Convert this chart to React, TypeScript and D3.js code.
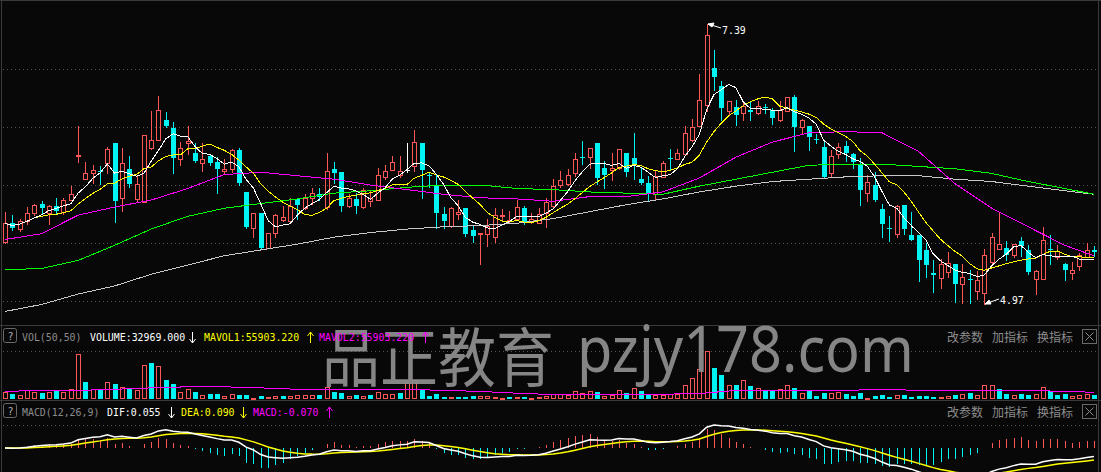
import React from 'react';
import * as d3 from 'd3';

const W = 1101;
const H = 472;

// Daily sessions, oldest first
const opens = [
  5.51, 5.67, 5.62, 5.69, 5.76, 5.84, 5.76, 5.82, 5.77, 5.87,
  6.25, 6.05, 6.10, 6.12, 6.19, 6.36, 5.89, 6.14, 5.88, 5.85,
  6.32, 6.39, 6.56, 6.49, 6.22, 6.36, 6.28, 6.19, 6.25, 6.20,
  6.12, 6.14, 6.30, 5.94, 5.63, 5.76, 5.46, 5.59, 5.70, 5.69,
  5.88, 5.80, 5.89, 5.92, 5.81, 6.14, 6.11, 5.82, 5.88, 5.81,
  5.86, 5.87, 6.07, 6.13, 6.09, 6.13, 6.16, 6.36, 6.09, 6.00,
  5.75, 5.65, 5.75, 5.80, 5.61, 5.58, 5.58, 5.55, 5.73, 5.69,
  5.71, 5.80, 5.68, 5.67, 5.76, 5.82, 6.00, 6.01, 6.10, 6.24,
  6.24, 6.36, 6.15, 6.13, 6.15, 6.28, 6.23, 6.05, 6.02, 5.92,
  6.07, 6.23, 6.22, 6.27, 6.39, 6.51, 6.69, 7.01, 6.85, 6.64,
  6.67, 6.62, 6.65, 6.62, 6.67, 6.65, 6.56, 6.64, 6.76, 6.50,
  6.51, 6.40, 6.33, 6.10, 6.27, 6.34, 6.27, 6.18, 5.93, 6.00,
  5.79, 5.63, 5.58, 5.83, 5.57, 5.57, 5.44, 5.24, 5.20, 5.25,
  5.32, 5.15, 5.19, 5.09, 5.07, 5.34, 5.45, 5.46, 5.40, 5.52,
  5.44, 5.19, 5.19, 5.45, 5.38, 5.32, 5.24, 5.30, 5.38, 5.44,
];
const highs = [
  5.77, 5.74, 5.71, 5.81, 5.84, 5.86, 5.83, 5.89, 5.89, 5.99,
  6.51, 6.20, 6.17, 6.16, 6.33, 6.36, 6.32, 6.25, 6.09, 6.43,
  6.64, 6.77, 6.63, 6.54, 6.37, 6.51, 6.36, 6.36, 6.27, 6.24,
  6.22, 6.31, 6.32, 5.94, 5.76, 5.76, 5.59, 5.75, 5.82, 5.89,
  5.89, 5.92, 5.97, 5.97, 6.28, 6.20, 6.11, 5.92, 5.93, 5.97,
  5.95, 6.15, 6.17, 6.25, 6.25, 6.36, 6.47, 6.36, 6.10, 6.09,
  5.81, 5.81, 5.87, 5.80, 5.65, 5.59, 5.71, 5.80, 5.79, 5.78,
  5.87, 5.82, 5.76, 5.80, 5.89, 6.05, 6.12, 6.14, 6.28, 6.38,
  6.32, 6.36, 6.21, 6.28, 6.31, 6.28, 6.45, 6.15, 6.08, 6.12,
  6.21, 6.31, 6.31, 6.51, 6.57, 6.96, 7.39, 7.16, 6.90, 6.72,
  6.73, 6.72, 6.72, 6.72, 6.70, 6.66, 6.72, 6.76, 6.78, 6.57,
  6.51, 6.44, 6.37, 6.30, 6.36, 6.38, 6.28, 6.23, 6.09, 6.11,
  5.84, 5.73, 5.83, 5.83, 5.77, 5.57, 5.50, 5.35, 5.36, 5.42,
  5.32, 5.32, 5.27, 5.26, 5.45, 5.59, 5.76, 5.52, 5.49, 5.55,
  5.48, 5.27, 5.64, 5.57, 5.48, 5.33, 5.34, 5.41, 5.50, 5.47,
];
const lows = [
  5.50, 5.61, 5.60, 5.66, 5.74, 5.75, 5.66, 5.75, 5.75, 5.87,
  6.20, 6.05, 6.02, 6.01, 6.10, 5.68, 5.78, 5.98, 5.85, 5.85,
  6.31, 6.39, 6.50, 6.10, 6.17, 6.27, 6.20, 6.12, 6.17, 5.93,
  6.10, 6.11, 6.00, 5.63, 5.55, 5.45, 5.46, 5.55, 5.69, 5.68,
  5.71, 5.79, 5.84, 5.87, 5.79, 6.02, 5.78, 5.81, 5.76, 5.80,
  5.82, 5.87, 6.05, 6.13, 6.07, 6.11, 6.12, 5.89, 5.98, 5.63,
  5.63, 5.64, 5.71, 5.56, 5.51, 5.32, 5.47, 5.51, 5.70, 5.67,
  5.71, 5.66, 5.67, 5.67, 5.64, 5.81, 5.98, 6.00, 6.08, 6.18,
  6.15, 6.01, 5.97, 6.04, 6.14, 6.08, 6.05, 6.01, 5.87, 5.88,
  6.07, 6.13, 6.22, 6.27, 6.38, 6.51, 6.64, 6.82, 6.56, 6.60,
  6.52, 6.56, 6.56, 6.61, 6.62, 6.53, 6.55, 6.64, 6.29, 6.44,
  6.30, 6.36, 6.07, 6.08, 6.23, 6.21, 6.15, 5.83, 5.86, 5.86,
  5.55, 5.52, 5.55, 5.58, 5.53, 5.17, 5.21, 5.08, 5.11, 5.21,
  4.99, 4.98, 4.98, 5.02, 4.97, 5.32, 5.45, 5.35, 5.38, 5.39,
  5.23, 5.06, 5.19, 5.32, 5.36, 5.18, 5.19, 5.27, 5.38, 5.39,
];
const closes = [
  5.67, 5.63, 5.69, 5.76, 5.83, 5.80, 5.82, 5.78, 5.87, 5.92,
  6.26, 6.10, 6.13, 6.11, 6.31, 5.86, 6.19, 6.01, 6.01, 6.43,
  6.39, 6.65, 6.51, 6.23, 6.32, 6.38, 6.21, 6.22, 6.19, 6.14,
  6.14, 6.30, 6.02, 5.64, 5.76, 5.46, 5.59, 5.74, 5.72, 5.82,
  5.83, 5.89, 5.93, 5.90, 6.12, 6.10, 5.82, 5.89, 5.82, 5.96,
  5.89, 6.09, 6.12, 6.20, 6.12, 6.13, 6.37, 6.13, 6.08, 5.76,
  5.69, 5.80, 5.77, 5.58, 5.56, 5.59, 5.65, 5.74, 5.74, 5.70,
  5.81, 5.67, 5.71, 5.75, 5.85, 5.99, 6.04, 6.09, 6.22, 6.23,
  6.32, 6.06, 6.09, 6.15, 6.31, 6.11, 6.18, 6.02, 5.93, 6.08,
  6.19, 6.22, 6.28, 6.45, 6.50, 6.73, 7.29, 6.93, 6.66, 6.72,
  6.60, 6.68, 6.63, 6.68, 6.66, 6.58, 6.65, 6.76, 6.50, 6.56,
  6.41, 6.39, 6.07, 6.25, 6.33, 6.28, 6.20, 5.96, 6.03, 5.87,
  5.66, 5.62, 5.82, 5.62, 5.53, 5.35, 5.31, 5.22, 5.32, 5.33,
  5.15, 5.21, 5.18, 5.18, 5.40, 5.55, 5.49, 5.40, 5.49, 5.47,
  5.25, 5.26, 5.53, 5.44, 5.43, 5.27, 5.27, 5.40, 5.44, 5.42,
];
const volumes = [
  57500, 40000, 36700, 71700, 57500, 48300, 57500, 63300, 57500, 80800,
  379000, 145000, 80800, 80800, 145000, 127500, 101700, 92500, 78300, 282500,
  297500, 276700, 154200, 127500, 57500, 83300, 57500, 36700, 40000, 40000,
  22500, 45800, 30800, 30800, 12000, 22500, 13300, 28300, 22500, 22500,
  30800, 36700, 36700, 30800, 98300, 57500, 51700, 28300, 30800, 28300,
  30800, 54200, 45800, 45800, 51700, 133300, 160000, 78300, 25000, 40000,
  13300, 16700, 19200, 13300, 25000, 22500, 28300, 13300, 7500, 13300,
  19200, 13300, 7500, 16700, 28300, 42500, 42500, 34200, 63300, 51700,
  63300, 57500, 28300, 34200, 71700, 48300, 92500, 65800, 36700, 34200,
  34200, 45800, 40000, 119200, 171700, 247500, 400000, 259200, 197500, 115800,
  119200, 160000, 110000, 92500, 63300, 65800, 80800, 115800, 92500, 48300,
  65800, 22500, 48300, 48300, 54200, 40000, 22500, 48300, 10800, 25000,
  30800, 13300, 30800, 34200, 13300, 22500, 22500, 13300, 19200, 22500,
  30800, 45800, 48300, 30800, 115800, 115800, 80800, 40000, 30800, 40000,
  30800, 45800, 101700, 69200, 30800, 40000, 22500, 30800, 40000, 32969,
];

// Long averages, taken every fifth session plus the final one
const longIndex = [
  0, 5, 10, 15, 20, 25, 30, 35, 40, 45, 50, 55, 60, 65, 70, 75,
  80, 85, 90, 95, 100, 105, 110, 115, 120, 125, 130, 135, 140, 145, 149,
];
const ma30 = [
  5.53, 5.58, 5.74, 5.81, 5.87, 5.97, 6.09, 6.11, 6.08, 6.05, 6.00, 5.96, 5.92, 5.89, 5.88, 5.86,
  5.90, 5.90, 5.94, 6.06, 6.24, 6.37, 6.45, 6.46, 6.45, 6.29, 6.01, 5.80, 5.64, 5.48, 5.39,
];
const ma60 = [
  5.27, 5.28, 5.35, 5.48, 5.62, 5.73, 5.80, 5.84, 5.88, 5.93, 5.95, 5.98, 6.00, 6.00, 5.97, 5.96,
  5.94, 5.93, 5.92, 5.99, 6.05, 6.11, 6.17, 6.18, 6.18, 6.16, 6.14, 6.10, 6.03, 5.97, 5.92,
];
const ma120 = [
  4.91, 4.97, 5.06, 5.13, 5.23, 5.31, 5.39, 5.44, 5.49, 5.55, 5.59, 5.62, 5.64, 5.65, 5.67, 5.71,
  5.77, 5.83, 5.88, 5.94, 5.99, 6.03, 6.05, 6.07, 6.08, 6.08, 6.05, 6.03, 5.99, 5.95, 5.92,
];
const mavol50 = [
  63300, 71700, 71700, 80800, 92500, 101700, 101700, 92500, 80800, 80800, 80800, 80800, 71700, 63300, 48300, 36700,
  36700, 40000, 40000, 45000, 71700, 71700, 71700, 71700, 80800, 71700, 71700, 71700, 71700, 63300, 55903.22,
];

const priceGrid = [5.0, 5.5, 6.0, 6.5, 7.0];
const macdHeaderValues = ['0.055', '0.090', '-0.070'];
const panelButtons = ['改参数', '加指标', '换指标'];

const RED = '#ff5656';
const CYAN = '#00f4f4';
const GREY_TEXT = '#8c8c8c';
const GRID = '#555555';
const FRAME = '#3a3a3a';
const MONO = '"DejaVu Sans Mono", monospace';
const CJK = '"Noto Sans CJK SC", sans-serif';
const CHAR_W = 5.95;

function movingAverage(values: number[], period: number) {
  return values.map((_, i) => d3.mean(values.slice(Math.max(0, i - period + 1), i + 1)) as number);
}

function ema(values: number[], period: number) {
  const k = 2 / (period + 1);
  const out: number[] = [];
  values.forEach((v, i) => out.push(i === 0 ? v : out[i - 1] * (1 - k) + v * k));
  return out;
}

// Header label in the terminal's narrow monospace face
function Label({ x, y, fill, children }: { x: number; y: number; fill: string; children: string }) {
  return (
    <text x={x} y={y} fill={fill} fontFamily={MONO} fontSize={11} textLength={children.length * CHAR_W}
      lengthAdjust="spacingAndGlyphs">{children}</text>
  );
}

// Thin tall trend arrow used next to header values
function Arrow({ x, y, up, color }: { x: number; y: number; up: boolean; color: string }) {
  const top = y - 9;
  const bot = y + 2;
  const d = up
    ? `M${x},${bot}L${x},${top}M${x - 3},${top + 4}L${x},${top}L${x + 3},${top + 4}`
    : `M${x},${top}L${x},${bot}M${x - 3},${bot - 4}L${x},${bot}L${x + 3},${bot - 4}`;
  return <path d={d} fill="none" stroke={color} strokeWidth={1} />;
}

export default function App() {
  const n = closes.length;
  const x = d3.scaleLinear().domain([0, n - 1]).range([5, 1094]);
  const yP = d3.scaleLinear().domain([5, 7]).range([301, 69]);
  const yV = d3.scaleLinear().domain([0, d3.max(volumes) as number]).range([399, 351]);

  const ma5 = movingAverage(closes, 5);
  const ma10 = movingAverage(closes, 10);

  const e12 = ema(closes, 12);
  const e26 = ema(closes, 26);
  const dif = e12.map((v, i) => v - e26[i]);
  const dea = ema(dif, 9);
  const hist = dif.map((v, i) => 2 * (v - dea[i]));
  const macdTop = d3.max([...dif, ...dea]) as number;
  const yM = d3.scaleLinear().domain([0, macdTop]).range([448, 425]);

  const cx = (i: number) => Math.round(x(i));

  const seriesLine = (vals: number[], y: (v: number) => number) =>
    d3.line<number>().x((_, i) => x(i)).y((v) => y(v))(vals) || '';
  const sampledLine = (vals: number[], y: (v: number) => number) =>
    d3.line<number>().x((_, k) => x(longIndex[k])).y((v) => y(v))(vals) || '';

  const hiIdx = d3.maxIndex(highs);
  const loIdx = d3.minIndex(lows);
  const hiPt = { x: cx(hiIdx), y: Math.round(yP(highs[hiIdx])) };
  const loPt = { x: cx(loIdx), y: Math.round(yP(lows[loIdx])) };

  const upVol = (i: number) =>
    i === 0 ? closes[i] >= opens[i] : closes[i] > closes[i - 1] || (closes[i] === closes[i - 1] && closes[i] >= opens[i]);

  const lastVol = volumes[n - 1].toFixed(3);
  const lastMavol = mavol50[mavol50.length - 1].toFixed(3);

  const header = (y: number) => (
    <g>
      <rect x={3.5} y={y - 12.5} width={13} height={14} rx={2} fill="none" stroke="#6a6a6a" />
      <text x={10.5} y={y - 1} textAnchor="middle" fontFamily={MONO} fontSize={10} fill="#b0b0b0">?</text>
      {panelButtons.map((b, k) => (
        <text key={b} x={947 + k * 45} y={y + 0.5} fontFamily={CJK} fontSize={12} fill={GREY_TEXT}>{b}</text>
      ))}
      <rect x={1082.5} y={y - 11.5} width={14} height={14} fill="none" stroke="#6a6a6a" />
      <path d={`M${1085.5},${y - 8.5}L${1093.5},${y - 0.5}M${1093.5},${y - 8.5}L${1085.5},${y - 0.5}`} stroke="#8a8a8a" />
    </g>
  );

  return (
    <svg width={W} height={H} style={{ position: 'absolute', left: 0, top: 0, background: '#080808' }}>
      <defs>
        <clipPath id="mainClip"><rect x={2} y={1} width={1096} height={323} /></clipPath>
        <clipPath id="macdClip"><rect x={2} y={421} width={1096} height={60} /></clipPath>
      </defs>
      <rect x={0} y={0} width={W} height={H} fill="#080808" />

      {/* frame */}
      <line x1={0} y1={0.5} x2={W} y2={0.5} stroke={FRAME} />
      <line x1={1.5} y1={0} x2={1.5} y2={H} stroke={FRAME} />
      <line x1={1098.5} y1={0} x2={1098.5} y2={H} stroke={FRAME} />
      <line x1={0} y1={325.5} x2={W} y2={325.5} stroke={FRAME} />
      <line x1={0} y1={400.5} x2={W} y2={400.5} stroke={FRAME} />

      {/* price grid */}
      {priceGrid.map((p) => (
        <line key={p} x1={3} x2={1098} y1={Math.round(yP(p)) + 0.5} y2={Math.round(yP(p)) + 0.5}
          stroke={GRID} strokeDasharray="1 3" />
      ))}
      <line x1={3} x2={1098} y1={351.5} y2={351.5} stroke={GRID} strokeDasharray="1 3" />
      <line x1={3} x2={1098} y1={425.5} y2={425.5} stroke={GRID} strokeDasharray="1 3" />

      {/* candles */}
      <g clipPath="url(#mainClip)" shapeRendering="crispEdges">
        {closes.map((c, i) => {
          const o = opens[i];
          const px = cx(i);
          const yo = Math.round(yP(o));
          const yc = Math.round(yP(c));
          const yh = Math.round(yP(highs[i]));
          const yl = Math.round(yP(lows[i]));
          if (c > o) {
            return (
              <g key={i} stroke={RED} fill="none">
                {yh < yc && <line x1={px + 0.5} x2={px + 0.5} y1={yh} y2={yc} />}
                {yl > yo && <line x1={px + 0.5} x2={px + 0.5} y1={yo + 1} y2={yl + 1} />}
                <rect x={px - 1.5} y={yc + 0.5} width={4} height={Math.max(0.5, yo - yc)} />
              </g>
            );
          }
          if (c < o) {
            return (
              <g key={i}>
                <line x1={px + 0.5} x2={px + 0.5} y1={yh} y2={yl + 1} stroke={CYAN} />
                <rect x={px - 2} y={yo} width={5} height={Math.max(1, yc - yo)} fill={CYAN} />
              </g>
            );
          }
          return (
            <g key={i} stroke="#ffffff">
              <line x1={px + 0.5} x2={px + 0.5} y1={yh} y2={yl + 1} />
              <line x1={px - 2} x2={px + 3} y1={yo + 0.5} y2={yo + 0.5} />
            </g>
          );
        })}
      </g>

      {/* moving averages */}
      <g clipPath="url(#mainClip)" fill="none" strokeWidth={1} shapeRendering="crispEdges">
        <path d={sampledLine(ma120, yP)} stroke="#c8c8c8" />
        <path d={sampledLine(ma60, yP)} stroke="#00ff00" />
        <path d={sampledLine(ma30, yP)} stroke="#ff00ff" />
        <path d={seriesLine(ma10, yP)} stroke="#ffff00" />
        <path d={seriesLine(ma5, yP)} stroke="#ffffff" />
      </g>

      {/* extreme price markers */}
      <g stroke="#ffffff" fill="#ffffff">
        <line x1={hiPt.x + 1} y1={hiPt.y} x2={hiPt.x + 14} y2={hiPt.y + 4} />
        <path d={`M${hiPt.x + 1},${hiPt.y}L${hiPt.x + 7},${hiPt.y - 1}L${hiPt.x + 5},${hiPt.y + 3}Z`} />
        <line x1={loPt.x + 1} y1={loPt.y} x2={loPt.x + 15} y2={loPt.y - 5} />
        <path d={`M${loPt.x + 1},${loPt.y}L${loPt.x + 5},${loPt.y - 4}L${loPt.x + 7},${loPt.y}Z`} />
      </g>
      <Label x={hiPt.x + 15} y={hiPt.y + 10} fill="#ffffff">{highs[hiIdx].toFixed(2)}</Label>
      <Label x={loPt.x + 16} y={loPt.y} fill="#ffffff">{lows[loIdx].toFixed(2)}</Label>

      {/* volume panel */}
      <g shapeRendering="crispEdges">
        {volumes.map((v, i) => {
          const px = cx(i);
          const top = Math.round(yV(v));
          return upVol(i) ? (
            <rect key={i} x={px - 1.5} y={top + 0.5} width={4} height={Math.max(0.5, 398 - top)} fill="none" stroke={RED} />
          ) : (
            <rect key={i} x={px - 2} y={top} width={5} height={Math.max(1, 399 - top)} fill={CYAN} />
          );
        })}
      </g>
      <g fill="none" shapeRendering="crispEdges">
        <path d={sampledLine(mavol50, yV)} stroke="#ffff00" />
        <path d={sampledLine(mavol50, yV)} stroke="#ff00ff" />
      </g>

      {/* MACD panel */}
      <g clipPath="url(#macdClip)">
        <g shapeRendering="crispEdges">
          {hist.map((h, i) => {
            const px = cx(i) + 0.5;
            return <line key={i} x1={px} x2={px} y1={yM(0)} y2={yM(h)} stroke={h >= 0 ? RED : CYAN} />;
          })}
        </g>
        <path d={seriesLine(dea, yM)} fill="none" stroke="#ffff00" strokeWidth={1.5} />
        <path d={seriesLine(dif, yM)} fill="none" stroke="#ffffff" strokeWidth={1.5} />
      </g>

      {/* watermark */}
      <g fill="#8c8c8c" opacity={0.95}>
        <text x={0} y={0} fontFamily={CJK} fontSize={58} transform="translate(322,381) scale(1,1.1)">
          品正教育
        </text>
        <text x={0} y={0} fontFamily='"Noto Sans", sans-serif' fontSize={64} transform="translate(577,372) scale(0.9,1)">
          pzjy178.com
        </text>
      </g>

      {/* volume header */}
      {header(341)}
      <Label x={22} y={341} fill={GREY_TEXT}>VOL(50,50)</Label>
      <Label x={90} y={341} fill="#ffffff">{`VOLUME:${lastVol}`}</Label>
      <Arrow x={192.5} y={341} up={false} color="#ffffff" />
      <Label x={204} y={341} fill="#ffff00">{`MAVOL1:${lastMavol}`}</Label>
      <Arrow x={310.5} y={341} up color="#ffff00" />
      <Label x={319} y={341} fill="#ff00ff">{`MAVOL2:${lastMavol}`}</Label>
      <Arrow x={425.5} y={341} up color="#ff00ff" />

      {/* MACD header */}
      {header(416)}
      <Label x={22} y={416} fill={GREY_TEXT}>MACD(12,26,9)</Label>
      <Label x={107} y={416} fill="#ffffff">{`DIF:${macdHeaderValues[0]}`}</Label>
      <Arrow x={171.5} y={416} up={false} color="#ffffff" />
      <Label x={181} y={416} fill="#ffff00">{`DEA:${macdHeaderValues[1]}`}</Label>
      <Arrow x={243.5} y={416} up={false} color="#ffff00" />
      <Label x={253} y={416} fill="#ff00ff">{`MACD:${macdHeaderValues[2]}`}</Label>
      <Arrow x={329.5} y={416} up color="#ff00ff" />
    </svg>
  );
}
